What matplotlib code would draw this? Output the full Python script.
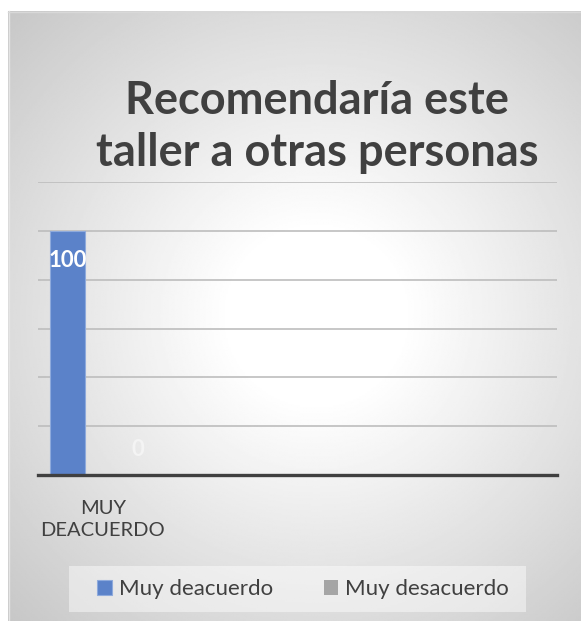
import numpy as np
import matplotlib.pyplot as plt
from matplotlib.patches import Rectangle

# data
categories = ["MUY\nDEACUERDO"]
series_names = ["Muy deacuerdo", "Muy desacuerdo"]
muy_deacuerdo = [100]
muy_desacuerdo = [0]
grid_ticks = [20, 40, 60, 80, 100, 120]
title = "Recomendaría este\ntaller a otras personas"

plt.rcParams['font.family'] = ['Lato', 'DejaVu Sans']
W, H = 581, 621
fig = plt.figure(figsize=(W / 100, H / 100), dpi=100)
fig.patch.set_facecolor('white')

# chart area with radial grey gradient
bg = fig.add_axes([8 / W, 0, (625 - 8) / W, (H - 11) / H], zorder=0)
yy, xx = np.mgrid[0:1:400j, 0:1:400j]
d = np.sqrt((xx - 0.5) ** 2 + (yy - 0.5) ** 2) / np.sqrt(0.5)
shade = 1 - 0.22 * np.clip((d - 0.2) / 0.8, 0, 1)
bg.imshow(shade, cmap='gray', vmin=0, vmax=1, aspect='auto', extent=(0, 1, 0, 1))
bg.set_xlim(0, 1)
bg.set_ylim(0, 1)
bg.axis('off')
fig.add_artist(plt.Line2D([8.5 / W, 8.5 / W], [0, (H - 11) / H], color='#e4e4e4', lw=1))
fig.add_artist(plt.Line2D([8 / W, 1], [(H - 11.5) / H, (H - 11.5) / H], color='#d8d8d8', lw=1))

# plot area
ax = fig.add_axes([38 / W, (H - 475) / H, (557 - 38) / W, (475 - 182) / H], zorder=2)
ax.patch.set_alpha(0)
x = np.arange(len(categories))
width = 0.27
b1 = ax.bar(x - 0.27, muy_deacuerdo, width, color='#5b82c9', edgecolor='#8eaadc', lw=0.8,
            label=series_names[0], zorder=3)
b2 = ax.bar(x + 0.27, muy_desacuerdo, width, color='#a5a5a5', label=series_names[1], zorder=3)

for rect, v in zip(b1, muy_deacuerdo):
    ax.annotate(str(v), (rect.get_x() + rect.get_width() / 2, v), xytext=(0, -21),
                textcoords='offset points', ha='center', va='center',
                fontsize=16, fontweight='bold', color='white', zorder=4)
for rect, v in zip(b2, muy_desacuerdo):
    ax.annotate(str(v), (rect.get_x() + rect.get_width() / 2, v), xytext=(0, 18),
                textcoords='offset points', ha='center', va='center',
                fontsize=16, fontweight='bold', color='#f4f4f4', zorder=4)

ax.set_xlim(-0.5, 3.5)
ax.set_ylim(0, 120)
ax.set_yticks(grid_ticks)
ax.set_yticklabels([])
ax.tick_params(axis='y', length=0)
ax.yaxis.grid(True, color='#bdbdbd', lw=1.2, zorder=1)
ax.set_axisbelow(True)
ax.set_xticks(x)
ax.set_xticklabels(categories, fontsize=14.5, color='#404040', linespacing=1.35)
ax.tick_params(axis='x', length=0, pad=18)
for s in ['top', 'right', 'left']:
    ax.spines[s].set_visible(False)
ax.spines['bottom'].set_color('#404040')
ax.spines['bottom'].set_linewidth(2.4)
ax.spines['bottom'].set_zorder(5)

fig.text(317 / W, 1 - 127 / H, title, ha='center', va='center', fontsize=32.5,
         fontweight='bold', color='#404040', linespacing=1.28)

# legend
fig.add_artist(Rectangle((69 / W, 1 - 612 / H), (526 - 69) / W, 46 / H,
                         transform=fig.transFigure, facecolor='white', alpha=0.45,
                         edgecolor='none', zorder=1))
leg = fig.legend(handles=[b1, b2], labels=series_names, loc='center',
                 bbox_to_anchor=(303 / W, 1 - 589 / H), ncol=2, frameon=False,
                 fontsize=16, handlelength=0.65, handleheight=0.65, handletextpad=0.3,
                 columnspacing=2.3)
for t in leg.get_texts():
    t.set_color('#404040')

fig.savefig('out.png', dpi=100)
